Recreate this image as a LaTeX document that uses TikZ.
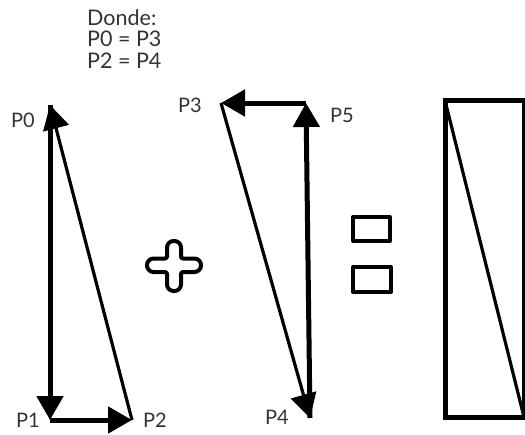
\documentclass[tikz,border=0pt]{standalone}
\usepackage{fontspec}
\setmainfont{Lato}
\usetikzlibrary{arrows.meta}
\tikzset{
  lbl/.style={text=black!80, font=\fontsize{20}{21}\selectfont, inner sep=0pt},
  thickline/.style={line width=5pt, draw=black},
  thinline/.style={line width=3.2pt, draw=black},
  vec/.style={-{Triangle[length=24pt,width=26pt]}},
  boxline/.style={line width=4pt, draw=black, line join=round},
}
\begin{document}
\begin{tikzpicture}[x=1pt,y=-1pt]
  \useasboundingbox (0,0) rectangle (525,434);

  % legend
  \node[lbl, anchor=north west, align=left, font=\fontsize{21.5}{21.5}\selectfont]
    (legend) at (87,9) {Donde:\\P0 = P3\\P2 = P4};

  % first triangle
  \coordinate (p0) at (50,105);
  \coordinate (p1) at (50,420);
  \coordinate (p2) at (132,420);
  \draw[thickline, vec] (p0) -- (p1);
  \draw[thickline, vec] (p1) -- (p2);
  \draw[thinline, vec] (p2) -- (p0);
  \node[lbl] (l0) at (23,120) {P0};
  \node[lbl] (l1) at (28,420) {P1};
  \node[lbl] (l2) at (155,420) {P2};

  % plus sign: round arm ends, tight inner corners
  \draw[boxline]
    (167,250) [rounded corners=6.5pt] -- (167,241) -- (181,241)
    [rounded corners=2pt] -- (181,258.5)
    [rounded corners=6.5pt] -- (201,258.5) -- (201,272)
    [rounded corners=2pt] -- (181,272)
    [rounded corners=6.5pt] -- (181,291) -- (167,291)
    [rounded corners=2pt] -- (167,272)
    [rounded corners=6.5pt] -- (147,272) -- (147,258.5)
    [rounded corners=2pt] -- (167,258.5) -- cycle;

  % second triangle
  \coordinate (p3) at (221,103);
  \coordinate (p5) at (306,103);
  \coordinate (p4) at (310,418);
  \draw[thickline, vec] (p5) -- (p3);
  \draw[thinline, vec] (p3) -- (p4);
  \draw[thickline, vec] (p4) -- (p5);
  \node[lbl] (l3) at (190,105) {P3};
  \node[lbl] (l5) at (342,115) {P5};
  \node[lbl] (l4) at (277,417) {P4};

  % equals sign drawn as two boxes
  \draw[boxline] (353,217) rectangle (390,241);
  \draw[boxline] (353,267) rectangle (391,292);

  % resulting rectangle
  \coordinate (ra) at (445,100.5);
  \coordinate (rc) at (524,417);
  \draw[thickline, line join=miter] (ra) rectangle (rc);
  \draw[thinline] (ra) -- (rc);
\end{tikzpicture}
\end{document}
